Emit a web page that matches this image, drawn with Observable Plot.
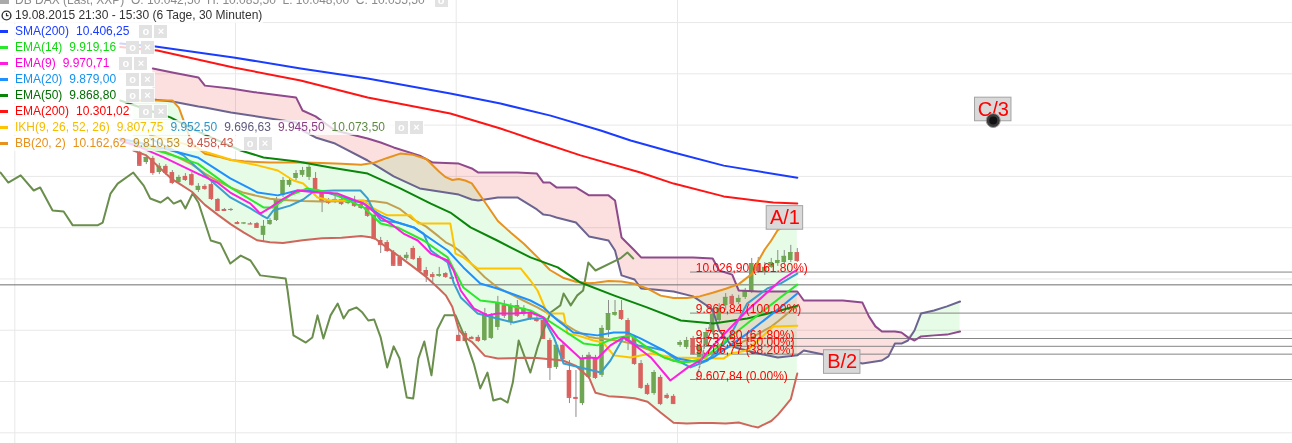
<!DOCTYPE html>
<html>
<head>
<meta charset="utf-8">
<script src="https://cdn.jsdelivr.net/npm/d3@7"></script>
<script src="https://cdn.jsdelivr.net/npm/@observablehq/plot@0.6"></script>
<style>
  html,body{margin:0;padding:0;background:#fff;}
  #wrap{position:relative;width:1292px;height:443px;overflow:hidden;font-family:"Liberation Sans",Arial,sans-serif;}
  #chart svg{display:block;}
  .row{position:absolute;left:0;height:15px;line-height:15px;font-size:12px;white-space:nowrap;background:rgba(255,255,255,0.78);padding-left:15px;padding-right:1px;}
  .mk{position:absolute;left:0;top:6px;width:8px;height:3px;}
  .v{margin-left:7px;}
  .ic{display:inline-block;width:13px;height:13px;line-height:13px;margin-left:2px;background:#e2e2e2;color:#fff;font-size:11px;font-weight:bold;text-align:center;vertical-align:top;margin-top:1px;}
  .ic.first{margin-left:10px;}
</style>
</head>
<body>
<div id="wrap"><div id="chart"></div><div id="legend"></div></div>
<script>
// ---------- DATA (bar index = 30-minute bar, price in DAX points) ----------
const candleOpen  = [10493,10454,10470,10415,10439,10415,10376,10400,10407,10345,10361,10368,10310,10271,10267,10220,10216,10216,10216,10170,10212,10228,10326,10365,10392,10404,10396,10392,10337,10306,10302,10310,10294,10302,10290,10279,10248,10150,10142,10103,10084,10080,10119,10080,10033,10017,10010,10021,10006,9780,9787,9772,9772,9760,9768,9811,9896,9830,9896,9861,9869,9846,9838,9760,9655,9741,9643,9538,9514,9616,9694,9624,9799,9858,9877,9838,9772,9670,9585,9553,9616,9546,9542,9741,9733,9768,9694,9741,9791,9838,9896,9932,9908,9928,9951,10060,10025,10045,10060,10064,10072,10103];
const candleHigh  = [10501,10482,10478,10450,10446,10423,10404,10411,10415,10372,10368,10376,10314,10275,10275,10224,10220,10220,10220,10228,10236,10318,10396,10392,10423,10435,10443,10415,10345,10314,10322,10318,10314,10322,10306,10286,10255,10162,10150,10111,10092,10103,10127,10088,10045,10025,10045,10025,10010,9799,9795,9776,9780,9885,9865,9932,9916,9904,9916,9896,9877,9854,9846,9768,9752,9748,9682,9643,9702,9713,9702,9818,9916,9916,9916,9846,9780,9682,9592,9643,9624,9553,9549,9760,9772,9776,9748,9807,9877,9904,9943,9939,9936,9963,10080,10084,10064,10080,10111,10111,10131,10119];
const candleLow   = [10439,10446,10404,10407,10404,10368,10368,10380,10361,10337,10345,10306,10263,10263,10263,10212,10212,10212,10197,10142,10209,10224,10318,10357,10384,10396,10384,10337,10259,10290,10294,10286,10290,10279,10271,10240,10150,10099,10103,10049,10049,10072,10072,10029,9986,9986,10006,10002,9998,9756,9752,9764,9752,9756,9764,9799,9846,9818,9850,9854,9838,9830,9764,9604,9647,9682,9514,9460,9506,9608,9608,9616,9772,9854,9838,9721,9663,9569,9546,9546,9506,9530,9510,9733,9725,9702,9674,9733,9783,9830,9877,9896,9900,9920,9943,10021,10014,10041,10049,10056,10064,10064];
const candleClose = [10443,10474,10415,10439,10415,10376,10396,10388,10368,10361,10353,10314,10267,10267,10271,10216,10218,10214,10201,10205,10228,10306,10384,10384,10411,10423,10435,10345,10306,10298,10310,10294,10302,10286,10279,10248,10158,10134,10111,10053,10053,10092,10080,10033,10014,10010,10017,10010,10002,9760,9760,9768,9760,9865,9858,9908,9858,9893,9858,9885,9846,9838,9768,9655,9741,9690,9538,9534,9690,9702,9616,9807,9865,9869,9846,9760,9670,9577,9553,9635,9514,9538,9514,9752,9760,9709,9741,9791,9861,9885,9928,9904,9924,9951,10060,10033,10045,10064,10072,10088,10103,10072];

const sma200 = [[-3,10918],[2.4,10907],[14.4,10864],[24.7,10821],[35,10782],[47.7,10723],[55.4,10684],[63.1,10637],[70.8,10579],[75.4,10540],[82,10493],[89.7,10442],[101,10395]];
const ema200 = [[-3,10905],[2.7,10891],[14.4,10825],[24.7,10774],[35,10708],[47.7,10645],[55.4,10587],[60.8,10540],[67.7,10482],[76.9,10415],[82,10372],[89.7,10322],[97.3,10298],[101,10294]];
const ema50 = [[-3,10696],[2.4,10649],[4.7,10630],[9.3,10571],[15.5,10501],[19,10474],[24.2,10458],[29.3,10435],[35,10411],[40,10353],[44.7,10294],[47.7,10259],[50.8,10201],[54.9,10150],[60,10084],[64.2,10045],[67.7,9986],[72.8,9936],[77.9,9889],[83.1,9838],[88.1,9826],[93.3,9846],[98.4,9877],[101,9896]];
const ema20 = [[-3,10548],[3.7,10509],[8.9,10474],[13.9,10392],[18.1,10337],[21.2,10326],[24.2,10345],[27.3,10345],[29.3,10333],[34.4,10294],[37,10248],[39.6,10220],[42.1,10201],[47.3,10111],[49.7,10045],[52.3,9982],[54.9,9963],[60,9916],[62,9889],[64.2,9838],[66.6,9791],[70.3,9780],[72.8,9791],[74.9,9791],[76.9,9768],[80.5,9721],[82.6,9690],[86.1,9674],[88.1,9694],[93.3,9787],[98.4,9889],[101,9943]];
const ema14 = [[-3,10540],[3.7,10493],[8.9,10450],[13.9,10357],[19,10279],[20.5,10279],[23.1,10326],[25.7,10353],[29.3,10337],[34.4,10279],[37,10216],[39.6,10201],[43.6,10150],[47.3,10084],[49.7,9967],[52.3,9916],[54.9,9908],[60,9877],[62,9850],[65.1,9799],[68.2,9748],[70.3,9741],[72.8,9768],[75.4,9780],[77.9,9733],[80.5,9694],[83.1,9674],[86.1,9682],[88.1,9721],[93.3,9826],[98.4,9928],[101,9978]];
const ema9 = [[-3,10540],[0.1,10513],[3.7,10474],[8.9,10411],[11.9,10376],[13.9,10337],[17,10294],[18.5,10255],[20.1,10279],[21.6,10306],[24.2,10345],[27.3,10337],[30.4,10333],[34.4,10294],[37,10240],[38.5,10216],[40.5,10177],[42.7,10150],[44.7,10099],[47.3,10072],[48.2,10033],[49.3,9955],[51.3,9885],[53.4,9858],[54.9,9865],[57.4,9865],[60,9869],[62,9850],[64.2,9772],[67.7,9690],[69.2,9694],[70.3,9690],[72.3,9741],[74.3,9772],[76.5,9733],[78.5,9694],[81.5,9604],[84.2,9655],[86.1,9682],[88.1,9741],[93.3,9877],[98.4,9994],[101,10037]];
const ikhTenkan = [[1.6,10560],[7.8,10521],[10.4,10493],[14.4,10462],[18.1,10443],[21.2,10423],[23.6,10384],[25.1,10372],[26.2,10345],[27.3,10318],[29.3,10306],[34.4,10306],[35.9,10275],[38,10248],[41.6,10248],[42.8,10216],[47.7,10216],[48.5,10099],[49.7,10084],[51.9,10041],[58.5,10041],[60,9994],[61.1,9955],[62.6,9865],[65.1,9865],[65.7,9787],[67.2,9780],[69.7,9760],[71.2,9752],[72.8,9702],[75.4,9694],[78.5,9709],[82,9694],[89.7,9690],[90.8,9709],[93.3,9721],[97.3,9815],[101,9818]];
const ikhKijun = [[1.6,10548],[6.7,10482],[10.4,10396],[13.9,10318],[17,10275],[19,10244],[19.6,10236],[20.5,10267],[23.1,10286],[25.1,10310],[26.7,10341],[29.8,10345],[33.9,10345],[35,10314],[35.9,10267],[37,10228],[39.6,10220],[42.1,10201],[43.6,10177],[44.7,10111],[47.3,10064],[48.2,9986],[49.3,9928],[51.9,9865],[54.9,9846],[57.4,9830],[60,9846],[62,9846],[63.6,9772],[65.1,9670],[67.7,9655],[70.8,9635],[72.3,9682],[74.3,9772],[76.5,9741],[78.5,9733],[80.5,9721],[82.6,9682],[84.6,9655],[87.2,9682],[90.3,9760],[93.3,9904],[96.4,9963],[98.4,9982],[101,10021]];
const ikhChikou = [[-21.4,10415],[-20.2,10376],[-18.3,10404],[-16.3,10345],[-15.3,10357],[-13.4,10267],[-11.7,10263],[-10.3,10209],[-6.5,10209],[-5.7,10220],[-4.5,10333],[-3.4,10372],[-1,10415],[0.6,10364],[1.6,10314],[3.2,10298],[4.3,10318],[5.2,10294],[6.3,10306],[7,10275],[8.1,10333],[9,10298],[10.9,10150],[12.4,10138],[13.9,10060],[15.5,10091],[17,10072],[18.5,10014],[21.1,10006],[22.4,10002],[22.7,9955],[23.6,9780],[25.5,9752],[26.5,9772],[27.3,9858],[28.2,9768],[29.3,9858],[30.4,9904],[31.3,9846],[32.1,9877],[33.3,9889],[34.2,9869],[35.1,9838],[36,9842],[37,9772],[38,9655],[39,9737],[39.9,9690],[41,9538],[42,9534],[42.8,9690],[43.7,9756],[44.8,9624],[45.7,9803],[46.8,9858],[48.5,9858],[49.7,9787],[51.3,9670],[52.3,9573],[53.4,9635],[54.3,9526],[55.4,9534],[56.5,9518],[57.3,9596],[58.2,9760],[60,9635],[61.1,9733],[62,9799],[63.1,9869],[64.6,9897],[65.1,9943],[66.2,9897],[67.2,9936],[68.1,9955],[68.9,10064],[70,10033],[73.8,10080],[74.9,10103],[75.8,10080]];

// Ichimoku cloud (displaced spans)
const cloudBar = [2,5,9,10,14,18,24,25,27,30,35,37,39,43,45,49,51,52,55,58,61,62,63,64,67,69,72,73,74,76,77,79,82,85,88,89,91,92,95,98,101,102,105,108,111,112,113,114,115,116,117,118,119,120,122,124,126];
const senkouB  = [10821,10805,10786,10754,10743,10727,10708,10657,10634,10579,10548,10532,10513,10481,10454,10450,10431,10415,10415,10415,10411,10376,10376,10357,10357,10326,10326,10306,10162,10111,10084,10084,10084,10084,10080,10033,10017,9955,9951,9951,9951,9916,9916,9916,9908,9854,9815,9795,9795,9795,9791,9772,9760,9776,9780,9783,9795];
const senkouA  = [10700,10692,10673,10669,10649,10634,10610,10579,10552,10528,10462,10431,10400,10353,10345,10329,10310,10306,10318,10318,10271,10251,10248,10240,10220,10166,10150,10111,10014,9998,9963,9959,9951,9932,9881,9799,9737,9729,9709,9694,9702,9721,9705,9690,9670,9674,9678,9682,9698,9748,9748,9760,9799,9865,9877,9893,9912];

// Bollinger Bands (20, 2)
const bbBar   = [-1,1,3,5,6,8,10,12,14,16,18,20,22,25,28,31,34,36,38,40,42,44,46,47,48,49,50,51,53,55,57,59,61,63,65,67,69,70,72,74,76,78,80,82,84,86,88,90,92,94,95,96,97,98,99,100,101];
const bbUpper = [10696,10696,10696,10696,10668,10530,10488,10477,10464,10459,10456,10454,10454,10454,10452,10449,10445,10453,10472,10489,10484,10468,10418,10397,10386,10390,10384,10373,10300,10226,10180,10137,10087,10035,10005,9989,9983,9985,9992,9990,9981,9962,9935,9926,9926,9932,9946,9962,9980,10019,10070,10115,10150,10191,10204,10214,10205];
const bbMid   = [10540,10525,10505,10484,10472,10447,10411,10382,10356,10336,10324,10313,10308,10304,10302,10303,10305,10303,10296,10272,10232,10204,10164,10143,10130,10112,10087,10057,10007,9966,9941,9915,9890,9862,9828,9797,9774,9770,9764,9757,9745,9726,9701,9680,9676,9685,9712,9730,9748,9771,9786,9800,9814,9834,9855,9876,9893];
const bbLower = [10501,10482,10435,10388,10373,10340,10289,10250,10213,10181,10151,10143,10140,10151,10159,10161,10168,10161,10121,10085,10047,10008,9961,9936,9892,9802,9771,9755,9700,9690,9691,9693,9692,9687,9682,9661,9616,9556,9543,9540,9535,9521,9479,9439,9436,9438,9438,9436,9440,9426,9421,9434,9446,9470,9500,9531,9631];

// Fibonacci retracement
const fibPrice = [10026.90, 9866.84, 9767.80, 9737.34, 9706.77, 9607.84];
const fibPct   = [161.80, 100.00, 61.80, 50.00, 38.20, 0.00];
const fibAnchorBar = [85.5, 88];
const fibAnchorPrice = [9607.84, 9866.84];
const horizontalLine = [9977];

// grid
const gridPrices = [9400, 9600, 9800, 10000, 10200, 10400, 10600, 10800, 11000];
const dayBreaks = [-19.2, 14.7, 48.6, 82.6];

// Elliott wave labels
const waveText  = ["A/1", "B/2", "C/3"];
const waveBar   = [99.1, 107.9, 131.1];
const wavePrice = [10238, 9676, 10661];
const pivotBar = [131.1];
const pivotPrice = [10618];

// ---------- BUILD ----------
const C = {
  sma200:"#1a3cff", ema200:"#ff1414", ema50:"#0a850a", ema20:"#1e90ff", ema14:"#2ae82a", ema9:"#ff1ee0",
  tenkan:"#ffc400", kijun:"#3a9ed0", spanA:"#6b6490", spanB:"#8e4a8c", chikou:"#6a8e4c",
  bbU:"#e8921e", bbM:"#c3a04e", bbL:"#cf665b", up:"#6fa653", down:"#d9625f"
};
const candles = d3.range(candleClose.length).map(i => ({bar:i, open:candleOpen[i], high:candleHigh[i], low:candleLow[i], close:candleClose[i]}));
const bb = bbBar.map((b,i) => ({bar:b, upper:bbUpper[i], mid:bbMid[i], lower:bbLower[i]}));
const cloud = cloudBar.map((b,i) => ({bar:b, a:senkouA[i], b:senkouB[i]}));
const fib = fibPrice.map((p,i) => ({price:p, pct:fibPct[i]}));
const de = d3.formatLocale({decimal:",", thousands:".", grouping:[3], currency:["",""]}).format(",.2f");
const pct = d3.format(".2f");
const pairs = arr => arr.map(([bar, price]) => ({bar, price}));
const ln = (arr, stroke, w=2) => Plot.line(pairs(arr), {x:"bar", y:"price", stroke, strokeWidth:w, strokeLinejoin:"round"});
const candleColor = d => d.close >= d.open ? C.up : C.down;
const waves = waveText.map((t,i) => ({text:t, bar:waveBar[i], price:wavePrice[i]}));
const pivots = pivotBar.map((b,i) => ({bar:b, price:pivotPrice[i]}));
const anchors = fibAnchorBar.map((b,i) => ({bar:b, price:fibAnchorPrice[i]}));
const FONT = "'Liberation Sans', Arial, sans-serif";
const HW = 0.35; // half body width in bars

const plot = Plot.plot({
  width: 1292, height: 443, margin: 0,
  x: {domain: [-21.4, 177.07], axis: null},
  y: {domain: [9358.3, 11086], axis: null},
  style: {fontFamily: FONT, background: "#fff"},
  marks: [
    Plot.ruleY(gridPrices, {stroke:"#e8e8e8"}),
    Plot.ruleX(dayBreaks, {stroke:"#e8e8e8"}),
    Plot.areaY(bb, {x:"bar", y1:"lower", y2:"upper", fill:"rgb(230,252,230)"}),
    Plot.areaY(cloud, {x:"bar", y1:"a", y2:d => Math.max(d.a, d.b), fill:"rgb(252,224,224)", mixBlendMode:"multiply"}),
    Plot.areaY(cloud, {x:"bar", y1:"b", y2:d => Math.max(d.a, d.b), fill:"rgb(230,252,230)", mixBlendMode:"multiply"}),
    Plot.ruleY(horizontalLine, {stroke:"#6e6e6e"}),
    Plot.ruleY(fib, {y:"price", x1:84.6, x2:177.07, stroke:"#858585"}),
    Plot.ruleX(candles, {x:"bar", y1:"low", y2:"high", stroke:"#8c8c8c"}),
    Plot.rect(candles, {x1:d => d.bar - HW, x2:d => d.bar + HW, y1:"open", y2:"close", fill:candleColor}),
    Plot.ruleY(candles, {y:"close", x1:d => d.bar - HW, x2:d => d.bar + HW, stroke:candleColor}),
    Plot.line(cloud, {x:"bar", y:"a", stroke:C.spanA, strokeWidth:2}),
    Plot.line(cloud, {x:"bar", y:"b", stroke:C.spanB, strokeWidth:2}),
    ln(ikhChikou, C.chikou),
    Plot.line(bb, {x:"bar", y:"lower", stroke:C.bbL, strokeWidth:2}),
    Plot.line(bb, {x:"bar", y:"mid", stroke:C.bbM, strokeWidth:2}),
    Plot.line(bb, {x:"bar", y:"upper", stroke:C.bbU, strokeWidth:2}),
    ln(sma200, C.sma200),
    ln(ema200, C.ema200),
    ln(ema50, C.ema50),
    ln(ikhTenkan, C.tenkan),
    ln(ikhKijun, C.kijun),
    ln(ema20, C.ema20),
    ln(ema14, C.ema14),
    ln(ema9, C.ema9),
    Plot.line(anchors, {x:"bar", y:"price", stroke:"#909090", strokeDasharray:"2,2", strokeWidth:1.5}),
    Plot.text(fib, {x:85.4, y:"price", text:d => `${de(d.price)} (${pct(d.pct)}%)`, textAnchor:"start", lineAnchor:"bottom", dy:0, fill:"#ff0000", fontSize:12, fontFamily:FONT}),
    Plot.rect(waves, {x1:d => d.bar - 2.8, x2:d => d.bar + 2.8, y1:d => d.price - 46, y2:d => d.price + 46, fill:"#d9d9d9", stroke:"#a3a3a3"}),
    Plot.text(waves, {x:"bar", y:"price", text:"text", fill:"#ff0000", fontSize:20, fontFamily:FONT}),
    Plot.dot(pivots, {x:"bar", y:"price", r:7, fill:"#3a3a3a", stroke:"#999", strokeWidth:1}),
    Plot.dot(pivots, {x:"bar", y:"price", r:4, fill:"#111"})
  ]
});
document.getElementById("chart").append(plot);

// ---------- LEGEND (overlay) ----------
const legendRows = [
  {mk:C.sma200, items:[["SMA(200)","#1a3cff"],["10.406,25","#1a3cff"]]},
  {mk:C.ema14, items:[["EMA(14)","#11d811"],["9.919,16","#11d811"]]},
  {mk:C.ema9, items:[["EMA(9)","#ff00dc"],["9.970,71","#ff00dc"]]},
  {mk:C.ema20, items:[["EMA(20)","#1492ee"],["9.879,00","#1492ee"]]},
  {mk:C.ema50, items:[["EMA(50)","#006e00"],["9.868,80","#006e00"]]},
  {mk:C.ema200, items:[["EMA(200)","#ff0000"],["10.301,02","#ff0000"]]},
  {mk:C.tenkan, items:[["IKH(9, 26, 52, 26)","#f5bd00"],["9.807,75","#f5bd00"],["9.952,50","#2f95c8"],["9.696,63","#5e5a7e"],["9.945,50","#8a3e86"],["10.073,50","#5f8a45"]]},
  {mk:C.bbU, items:[["BB(20, 2)","#e8901c"],["10.162,62","#e8901c"],["9.810,53","#c0902a"],["9.458,43","#c8584a"]]}
];
const lg = document.getElementById("legend");
const head0 = document.createElement("div");
head0.className = "row"; head0.style.top = "-7px"; head0.style.color = "#8a8a8a";
head0.innerHTML = `<span class="mk" style="background:#aaa;height:6px;top:5px;width:9px"></span>DB DAX (Last, XXP)&nbsp; O: 10.042,50&nbsp; H: 10.085,50&nbsp; L: 10.048,00&nbsp; C: 10.055,50<span class="ic first">o</span>`;
lg.append(head0);
const head1 = document.createElement("div");
head1.className = "row"; head1.style.top = "8px"; head1.style.color = "#333";
head1.innerHTML = `<svg width="11" height="11" style="position:absolute;left:1px;top:2px"><circle cx="5.5" cy="5.5" r="4.4" fill="none" stroke="#333" stroke-width="1.4"/><path d="M5.5 3v2.7h2" fill="none" stroke="#333" stroke-width="1.2"/></svg>19.08.2015 21:30 - 15:30 (6 Tage, 30 Minuten)`;
lg.append(head1);
legendRows.forEach((r, i) => {
  const d = document.createElement("div");
  d.className = "row";
  d.style.top = (24 + 16 * i) + "px";
  let h = `<span class="mk" style="background:${r.mk}"></span>`;
  r.items.forEach(([t, c], j) => { h += `<span class="${j ? "v" : ""}" style="color:${c}">${t}</span>`; });
  h += `<span class="ic first">o</span><span class="ic">×</span>`;
  d.innerHTML = h;
  lg.append(d);
});
</script>
</body>
</html>
